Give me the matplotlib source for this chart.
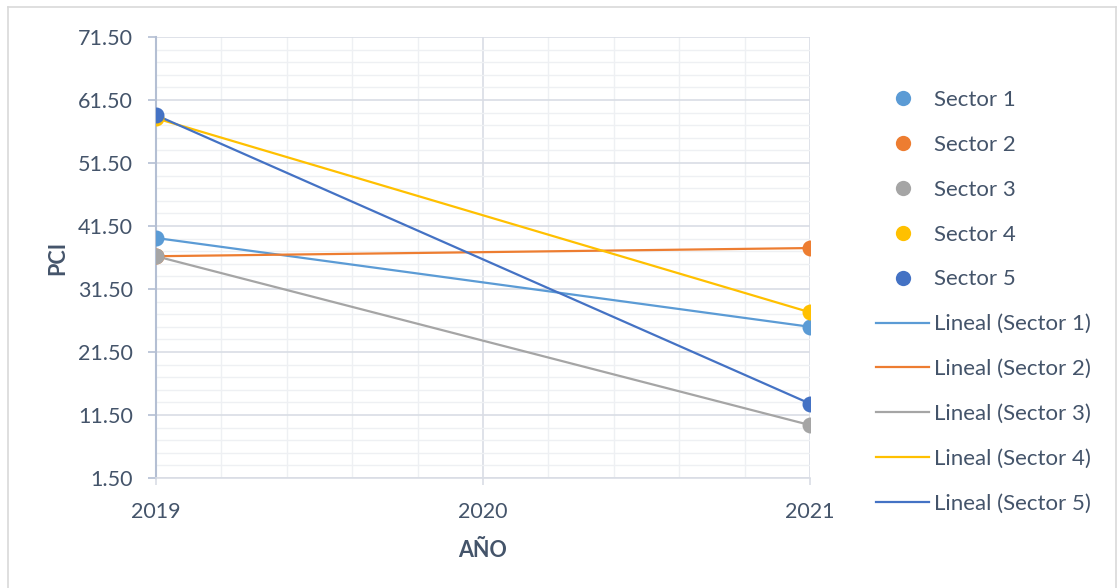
import matplotlib
matplotlib.use("Agg")
import matplotlib.pyplot as plt
from matplotlib.lines import Line2D
from matplotlib.ticker import MultipleLocator, FixedLocator

plt.rcParams['font.family'] = ['Lato', 'DejaVu Sans']

# PCI per sector, measured in 2019 and 2021
years = [2019, 2021]
sectors = ["Sector 1", "Sector 2", "Sector 3", "Sector 4", "Sector 5"]
pci_2019 = [39.6, 36.7, 36.7, 58.6, 59.1]
pci_2021 = [25.5, 38.0, 9.9, 27.8, 13.3]
colors = ["#5b9bd5", "#ed7d31", "#a5a5a5", "#ffc000", "#4472c4"]
y_ticks = [1.5, 11.5, 21.5, 31.5, 41.5, 51.5, 61.5, 71.5]
x_ticks = [2019, 2020, 2021]

text_color = "#44546a"
major_grid = "#d9dde5"
minor_grid = "#eef0f3"

fig = plt.figure(figsize=(11.2, 5.88), dpi=100)
ax = fig.add_axes([156 / 1120, 1 - 478 / 588, (810 - 156) / 1120, (478 - 37) / 588])

# linear trend of each sector (two points -> straight line)
for name, a, b, c in zip(sectors, pci_2019, pci_2021, colors):
    ax.plot(years, [a, b], color=c, lw=1.6, zorder=3, solid_capstyle="butt")
# data markers on top
for name, a, b, c in zip(sectors, pci_2019, pci_2021, colors):
    ax.plot(years, [a, b], linestyle="none", marker="o", ms=11.5,
            color=c, markeredgewidth=0, zorder=4)

ax.set_xlim(2019, 2021)
ax.set_ylim(1.5, 71.5)
ax.yaxis.set_major_locator(FixedLocator(y_ticks))
ax.yaxis.set_minor_locator(MultipleLocator(2, offset=1.5))
ax.xaxis.set_major_locator(FixedLocator(x_ticks))
ax.xaxis.set_minor_locator(MultipleLocator(0.2))
ax.set_yticklabels([f"{v:.2f}" for v in y_ticks])
ax.set_xticklabels([str(v) for v in x_ticks])

ax.grid(which="major", color=major_grid, lw=1.2, zorder=0)
ax.grid(which="minor", color=minor_grid, lw=1.0, zorder=0)
ax.set_axisbelow(True)

for side in ("top", "right"):
    ax.spines[side].set_visible(False)
ax.spines["left"].set_color("#b4bfd3")
ax.spines["left"].set_linewidth(1.5)
ax.spines["bottom"].set_color("#d9dde5")
ax.spines["bottom"].set_linewidth(1.2)

ax.tick_params(axis="y", which="major", length=6, width=1.2, color="#b4bfd3",
               labelsize=15.5, labelcolor=text_color, pad=10.5)
ax.tick_params(axis="x", which="major", length=5, width=1.2, color="#d9dde5",
               labelsize=15.5, labelcolor=text_color, pad=12)
ax.tick_params(which="minor", length=0)

ax.set_ylabel("PCI", fontsize=15.5, fontweight="bold", color=text_color, labelpad=7)
ax.set_xlabel("AÑO", fontsize=15.5, fontweight="bold", color=text_color, labelpad=13)

# legend: markers for the series, lines for the trends
handles = []
labels = []
for name, c in zip(sectors, colors):
    handles.append(Line2D([], [], linestyle="none", marker="o", ms=11, color=c,
                          markeredgewidth=0))
    labels.append(name)
for name, c in zip(sectors, colors):
    handles.append(Line2D([], [], color=c, lw=1.6))
    labels.append(f"Lineal ({name})")
leg = fig.legend(handles, labels, loc="upper left",
                 bbox_to_anchor=(867 / 1120, 1 - 81 / 588),
                 frameon=False, fontsize=16, labelspacing=1.12,
                 handlelength=2.4, handletextpad=0.23, borderaxespad=0)
for t in leg.get_texts():
    t.set_color(text_color)

# outer chart border
for xs, ys in (([8, 8], [0, 581]), ([8, 1116], [581, 581]), ([1116, 1116], [0, 581])):
    fig.add_artist(Line2D([v / 1120 for v in xs], [v / 588 for v in ys],
                          transform=fig.transFigure, color="#d9d9d9", lw=1.2))

fig.savefig("out.png", dpi=100)
